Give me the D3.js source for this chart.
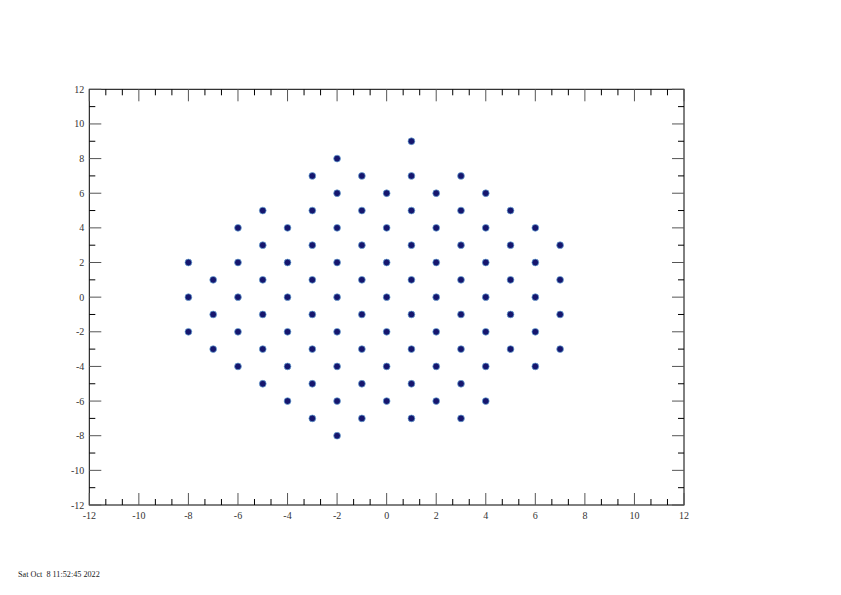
<!DOCTYPE html>
<html>
<head>
<meta charset="utf-8">
<script src="https://cdn.jsdelivr.net/npm/d3@7"></script>
<style>
  body { margin: 0; background: #fff; }
  svg { display: block; }
  text { font-family: "Liberation Serif", "DejaVu Serif", serif; }
</style>
</head>
<body>
<svg id="chart" width="841" height="595"></svg>
<script>
// Data: lattice points, grouped by x column
const columnX = [-8, -7, -6, -5, -4, -3, -2, -1, 0, 1, 2, 3, 4, 5, 6, 7];
const columnY = [
  [2, 0, -2],
  [1, -1, -3],
  [4, 2, 0, -2, -4],
  [5, 3, 1, -1, -3, -5],
  [4, 2, 0, -2, -4, -6],
  [7, 5, 3, 1, -1, -3, -5, -7],
  [8, 6, 4, 2, 0, -2, -4, -6, -8],
  [7, 5, 3, 1, -1, -3, -5, -7],
  [6, 4, 2, 0, -2, -4, -6],
  [9, 7, 5, 3, 1, -1, -3, -5, -7],
  [6, 4, 2, 0, -2, -4, -6],
  [7, 5, 3, 1, -1, -3, -5, -7],
  [6, 4, 2, 0, -2, -4, -6],
  [5, 3, 1, -1, -3],
  [4, 2, 0, -2, -4],
  [3, 1, -1, -3]
];
const xTicks = [-12, -10, -8, -6, -4, -2, 0, 2, 4, 6, 8, 10, 12];
const yTicks = [-12, -10, -8, -6, -4, -2, 0, 2, 4, 6, 8, 10, 12];
const dateLabel = "Sat Oct  8 11:52:45 2022";

(function () {
  const points = [];
  columnX.forEach((cx, i) => columnY[i].forEach(cy => points.push({x: cx, y: cy})));

  const svg = d3.select("#chart");
  const pL = 89.3, pR = 684, pT = 89.3, pB = 505;
  const x = d3.scaleLinear().domain([-12, 12]).range([pL, pR]);
  const y = d3.scaleLinear().domain([-12, 12]).range([pB, pT]);

  const axisColor = "#000";
  svg.append("rect")
    .attr("x", pL).attr("y", pT)
    .attr("width", pR - pL).attr("height", pB - pT)
    .attr("fill", "none").attr("stroke", axisColor).attr("stroke-width", 1);

  const xMinor = d3.range(-12, 12.001, 2 / 3).filter(v => Math.abs(v / 2 - Math.round(v / 2)) > 1e-6);
  const yMinor = d3.range(-11, 12, 2);

  const majLen = 12, minLen = 6;
  const g = svg.append("g").attr("stroke", axisColor).attr("stroke-width", 1);

  xTicks.forEach(v => {
    g.append("line").attr("x1", x(v)).attr("x2", x(v)).attr("y1", pB).attr("y2", pB - majLen).attr("stroke", "#555");
    g.append("line").attr("x1", x(v)).attr("x2", x(v)).attr("y1", pT).attr("y2", pT + majLen).attr("stroke", "#555");
  });
  xMinor.forEach(v => {
    g.append("line").attr("x1", x(v)).attr("x2", x(v)).attr("y1", pB).attr("y2", pB - minLen);
    g.append("line").attr("x1", x(v)).attr("x2", x(v)).attr("y1", pT).attr("y2", pT + minLen);
  });
  yTicks.forEach(v => {
    g.append("line").attr("y1", y(v)).attr("y2", y(v)).attr("x1", pL).attr("x2", pL + majLen).attr("stroke", "#555");
    g.append("line").attr("y1", y(v)).attr("y2", y(v)).attr("x1", pR).attr("x2", pR - majLen).attr("stroke", "#555");
  });
  yMinor.forEach(v => {
    g.append("line").attr("y1", y(v)).attr("y2", y(v)).attr("x1", pL).attr("x2", pL + minLen);
    g.append("line").attr("y1", y(v)).attr("y2", y(v)).attr("x1", pR).attr("x2", pR - minLen);
  });

  svg.append("g").selectAll("text").data(xTicks).join("text")
    .attr("x", d => x(d)).attr("y", pB + 14)
    .attr("text-anchor", "middle").attr("font-size", 10).attr("fill", "#333")
    .text(d => d);
  svg.append("g").selectAll("text").data(yTicks).join("text")
    .attr("x", pL - 5).attr("y", d => y(d) + 3.5)
    .attr("text-anchor", "end").attr("font-size", 10).attr("fill", "#333")
    .text(d => d);

  svg.append("g").selectAll("circle").data(points).join("circle")
    .attr("cx", d => x(d.x)).attr("cy", d => y(d.y))
    .attr("r", 3.4)
    .attr("fill", "#15166e")
    .attr("stroke", "#6aa8d8").attr("stroke-width", 0.7);

  svg.append("text").attr("x", 18).attr("y", 577)
    .attr("font-size", 8.2).attr("fill", "#222")
    .style("white-space", "pre")
    .text(dateLabel);
})();
</script>
</body>
</html>
